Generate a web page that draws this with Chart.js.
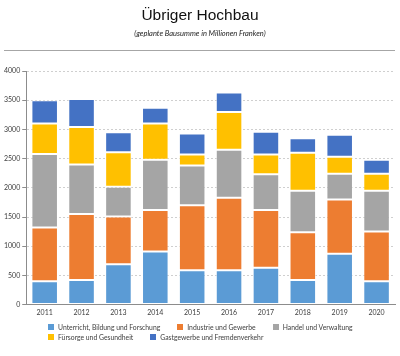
<!DOCTYPE html>
<html><head><meta charset="utf-8">
<script src="https://cdn.jsdelivr.net/npm/chart.js@4"></script>
<style>
html,body{margin:0;padding:0;background:#fff;}
#wrap{position:relative;width:400px;height:356px;overflow:hidden;}
#title{position:absolute;left:0;top:6px;width:400px;text-align:center;font:15.5px "Liberation Sans",Arial,sans-serif;color:#111;}
#sub{position:absolute;left:0;top:29px;width:400px;text-align:center;font:italic 7.5px Lato,sans-serif;color:#222;}
#rule{position:absolute;left:4px;top:50px;width:391px;height:0;border-top:1.5px solid #a6a6a6;}
#legend{position:absolute;left:48px;top:322px;width:340px;display:flex;flex-wrap:wrap;font:6.8px Lato,sans-serif;color:#404040;}
#legend .it{display:flex;align-items:center;margin-right:17px;height:10px;white-space:nowrap;}
#legend .bx{width:6px;height:6px;margin-right:4px;}
#legend .br{flex-basis:100%;height:0;}
canvas{position:absolute;left:0;top:0;}
</style></head>
<body><div id="wrap">
<canvas id="c" width="400" height="356"></canvas>
<div id="title">Übriger Hochbau</div>
<div id="sub">(geplante Bausumme in Millionen Franken)</div>
<div id="rule"></div>
<div id="legend"></div>
</div>
<script>
const years = ["2011","2012","2013","2014","2015","2016","2017","2018","2019","2020"];
const unterricht = [400, 420, 690, 910, 590, 590, 630, 420, 870, 400];
const industrie = [920, 1130, 820, 710, 1110, 1240, 990, 820, 930, 850];
const handel = [1260, 850, 510, 860, 680, 820, 610, 710, 440, 700];
const fuersorge = [520, 640, 590, 620, 190, 650, 340, 650, 290, 290];
const gastgewerbe = [400, 480, 340, 270, 360, 330, 390, 250, 380, 240];
const seriesNames = ["Unterricht, Bildung und Forschung","Industrie und Gewerbe","Handel und Verwaltung","Fürsorge und Gesundheit","Gastgewerbe und Fremdenverkehr"];
const seriesColors = ["#5b9bd5","#ed7d31","#a5a5a5","#ffc000","#4472c4"];
const yTicks = [0,500,1000,1500,2000,2500,3000,3500,4000];

const seriesData = [unterricht, industrie, handel, fuersorge, gastgewerbe];
const datasets = seriesData.map((d,i)=>({
  label: seriesNames[i], data: d, backgroundColor: seriesColors[i],
  borderColor: "rgba(255,255,255,0.55)", borderWidth: 1, borderSkipped: false
}));

const lg = document.getElementById('legend');
seriesNames.forEach((n,i)=>{
  if (i === 3) { const br=document.createElement('div'); br.className='br'; lg.appendChild(br); }
  const it=document.createElement('div'); it.className='it';
  const b=document.createElement('div'); b.className='bx'; b.style.background=seriesColors[i];
  const t=document.createElement('span'); t.textContent=n;
  it.appendChild(b); it.appendChild(t); lg.appendChild(it);
});

new Chart(document.getElementById('c'), {
  type: 'bar',
  data: { labels: years, datasets },
  options: {
    responsive: false, animation: false,
    layout: { padding: { top: 71, left: 2, right: 5, bottom: 35 } },
    plugins: { legend: { display: false }, title: { display: false }, tooltip: { enabled: false } },
    scales: {
      x: {
        stacked: true,
        grid: { display: false, drawTicks: false },
        border: { display: true, color: '#8c8c8c', width: 1 },
        ticks: { color: '#404040', font: { family: 'Lato', size: 7 }, padding: 4, maxRotation: 0 }
      },
      y: {
        stacked: true, min: 0, max: 4000,
        afterBuildTicks: s => { s.ticks = yTicks.map(v => ({ value: v })); },
        grid: { color: '#cfcfcf', tickColor: '#8c8c8c', tickLength: 4, lineWidth: 1, tickBorderDash: [] },
        border: { display: true, color: '#8c8c8c', width: 1, dash: [2,2] },
        ticks: { color: '#404040', font: { family: 'Lato', size: 7 }, padding: 2, callback: v => String(v) }
      }
    }
  }
});
</script>
</body></html>
